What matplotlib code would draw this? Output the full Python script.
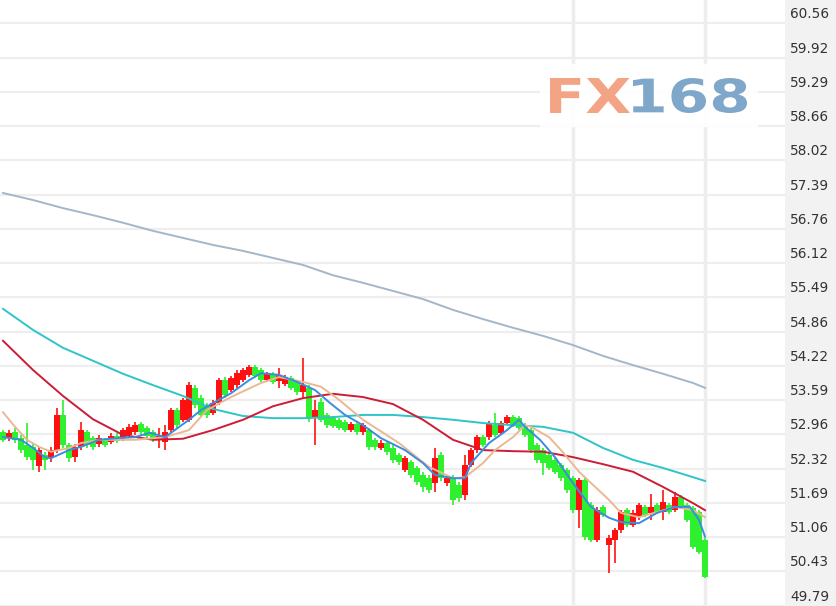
import matplotlib.pyplot as plt
from matplotlib.patches import Rectangle, PathPatch
from matplotlib.textpath import TextPath
from matplotlib.font_manager import FontProperties
from matplotlib.transforms import Affine2D

# price scale labels on the right
tick_vals = [60.56, 59.92, 59.29, 58.66, 58.02, 57.39, 56.76, 56.12, 55.49,
             54.86, 54.22, 53.59, 52.96, 52.32, 51.69, 51.06, 50.43, 49.79]

# candles (oldest first)
opens = [53.00, 52.89, 53.00, 52.89, 52.76, 52.73, 52.38, 52.58, 52.52, 52.67,
         53.32, 52.76, 52.54, 52.73, 53.00, 52.89, 52.78, 52.86, 52.82, 52.93,
         52.89, 52.95, 53.00, 53.15, 53.08, 53.00, 52.86, 52.82, 53.04, 53.41,
         53.23, 53.23, 53.82, 53.63, 53.50, 53.36, 53.54, 53.96, 53.78, 53.87,
         53.96, 54.06, 54.21, 54.15, 53.96, 54.08, 53.95, 53.89, 54.00, 53.93,
         53.74, 53.82, 53.26, 53.56, 53.32, 53.26, 53.23, 53.19, 53.04, 53.15,
         53.00, 53.04, 52.86, 52.71, 52.80, 52.71, 52.58, 52.30, 52.45, 52.34,
         52.21, 52.15, 52.06, 52.58, 52.06, 52.15, 52.03, 51.84, 52.40, 52.67,
         52.91, 52.91, 53.13, 52.99, 53.17, 53.28, 53.26, 53.13, 53.04, 52.76,
         52.67, 52.58, 52.49, 52.40, 52.30, 52.15, 51.56, 52.12, 51.66, 51.01,
         51.62, 50.92, 51.01, 51.19, 51.56, 51.29, 51.43, 51.62, 51.51, 51.66,
         51.53, 51.66, 51.56, 51.80, 51.66, 51.60, 51.53, 51.01]
highs = [53.04, 53.04, 53.08, 52.95, 53.17, 52.78, 52.73, 52.64, 52.73, 53.45,
         53.60, 52.80, 52.78, 53.19, 53.04, 52.93, 52.95, 52.89, 52.99, 52.99,
         53.08, 53.15, 53.19, 53.19, 53.12, 53.04, 53.08, 53.13, 53.45, 53.45,
         53.63, 53.93, 53.87, 53.69, 53.54, 53.60, 54.00, 54.02, 54.04, 54.15,
         54.19, 54.24, 54.24, 54.19, 54.12, 54.12, 54.19, 54.06, 54.04, 53.96,
         54.37, 53.87, 53.60, 53.63, 53.36, 53.30, 53.26, 53.23, 53.19, 53.19,
         53.17, 53.08, 52.89, 52.86, 52.84, 52.76, 52.62, 52.56, 52.49, 52.38,
         52.27, 52.21, 52.71, 52.64, 52.21, 52.21, 52.08, 52.58, 52.71, 52.95,
         52.95, 53.21, 53.36, 53.21, 53.32, 53.32, 53.30, 53.17, 53.08, 52.80,
         52.71, 52.62, 52.52, 52.43, 52.34, 52.19, 52.15, 52.15, 51.71, 51.62,
         51.66, 51.10, 51.23, 51.56, 51.60, 51.56, 51.69, 51.66, 51.86, 51.69,
         51.93, 51.69, 51.90, 51.84, 51.69, 51.64, 51.56, 51.05]
lows = [52.82, 52.84, 52.80, 52.62, 52.49, 52.30, 52.27, 52.30, 52.45, 52.62,
        52.71, 52.45, 52.45, 52.67, 52.71, 52.67, 52.73, 52.73, 52.78, 52.80,
        52.84, 52.91, 52.95, 52.95, 52.89, 52.82, 52.71, 52.67, 53.00, 53.08,
        53.19, 53.19, 53.45, 53.28, 53.26, 53.32, 53.50, 53.63, 53.74, 53.82,
        53.93, 54.02, 54.00, 53.93, 53.93, 53.89, 53.82, 53.85, 53.78, 53.69,
        53.63, 53.19, 52.76, 53.19, 53.08, 53.08, 53.04, 53.00, 53.00, 52.95,
        52.95, 52.67, 52.67, 52.67, 52.58, 52.43, 52.40, 52.27, 52.15, 52.03,
        51.90, 51.88, 51.90, 52.10, 52.01, 51.66, 51.71, 51.75, 52.36, 52.62,
        52.73, 52.86, 52.91, 52.95, 53.13, 53.10, 53.04, 52.91, 52.62, 52.43,
        52.21, 52.30, 52.23, 52.10, 51.88, 51.51, 51.23, 51.01, 50.97, 50.97,
        51.43, 50.40, 50.58, 51.14, 51.25, 51.25, 51.38, 51.43, 51.38, 51.49,
        51.38, 51.49, 51.53, 51.58, 51.34, 50.84, 50.75, 50.30]
closes = [52.86, 52.99, 52.86, 52.67, 52.54, 52.49, 52.67, 52.49, 52.67, 53.32,
          52.76, 52.52, 52.73, 53.04, 52.76, 52.73, 52.89, 52.76, 52.93, 52.84,
          53.04, 53.10, 53.13, 53.00, 52.93, 52.86, 52.93, 53.00, 53.41, 53.13,
          53.60, 53.87, 53.50, 53.32, 53.32, 53.54, 53.96, 53.69, 54.00, 54.09,
          54.15, 54.21, 54.04, 53.96, 54.08, 53.93, 54.06, 54.02, 53.82, 53.74,
          53.87, 53.26, 53.41, 53.23, 53.13, 53.12, 53.08, 53.04, 53.15, 53.00,
          53.13, 52.73, 52.73, 52.80, 52.64, 52.49, 52.45, 52.52, 52.21, 52.08,
          51.99, 51.93, 52.52, 52.15, 52.15, 51.75, 51.79, 52.40, 52.67, 52.91,
          52.76, 53.17, 52.95, 53.17, 53.28, 53.13, 53.08, 52.95, 52.67, 52.49,
          52.43, 52.34, 52.27, 52.15, 51.93, 51.56, 52.12, 51.07, 51.01, 51.56,
          51.47, 51.05, 51.19, 51.53, 51.29, 51.51, 51.66, 51.47, 51.62, 51.53,
          51.71, 51.53, 51.80, 51.62, 51.38, 50.88, 50.79, 50.33]

# moving average lines, sampled at candle positions
ma_x = [0, 5, 10, 15, 20, 25, 30, 35, 40, 45, 50, 55, 60, 65, 70, 75, 80,
        85, 90, 95, 100, 105, 110, 115, 117]
ma_slow = [57.42, 57.29, 57.14, 57.01, 56.87, 56.72, 56.59, 56.46, 56.35, 56.22,
           56.09, 55.90, 55.76, 55.61, 55.46, 55.26, 55.09, 54.93, 54.78, 54.61,
           54.41, 54.24, 54.08, 53.91, 53.82]
ma_cyan = [55.28, 54.89, 54.56, 54.32, 54.08, 53.87, 53.67, 53.43, 53.30, 53.26,
           53.26, 53.28, 53.32, 53.32, 53.28, 53.23, 53.17, 53.13, 53.10, 52.99,
           52.71, 52.49, 52.34, 52.17, 52.10]
ma_red = [54.69, 54.15, 53.67, 53.24, 52.95, 52.86, 52.88, 53.04, 53.23, 53.48,
          53.63, 53.71, 53.65, 53.52, 53.23, 52.86, 52.67, 52.65, 52.64, 52.54,
          52.41, 52.27, 51.99, 51.69, 51.56]

tan_x = [0, 2, 4, 6, 8, 11, 13, 16, 22, 27, 31, 34, 38, 43, 46, 50, 53, 56, 60,
         66, 71, 75, 77, 80, 82, 85, 87, 88, 91, 93, 96, 101, 103, 106, 112, 115, 117]
ma_tan = [53.37, 53.10, 52.86, 52.73, 52.64, 52.71, 52.80, 52.86, 52.86, 52.91,
          53.04, 53.41, 53.65, 53.91, 54.02, 53.93, 53.84, 53.60, 53.23, 52.80,
          52.36, 52.15, 52.17, 52.43, 52.67, 52.91, 53.13, 53.10, 52.91, 52.67,
          52.27, 51.75, 51.51, 51.43, 51.62, 51.56, 51.43]

blue_x = [0, 3, 5, 7, 8, 11, 13, 16, 19, 22, 24.5, 27, 31, 33, 35, 38, 41, 43, 46,
          49, 52, 54.5, 57, 60, 63, 67, 70, 72, 75, 77, 78, 81, 84, 86, 87, 89.5,
          92, 95, 98, 101, 103, 106, 109, 112, 114.5, 116, 117]
ma_blue = [52.91, 52.86, 52.71, 52.54, 52.52, 52.67, 52.73, 52.86, 52.89, 52.91,
           52.99, 52.91, 53.23, 53.41, 53.54, 53.72, 53.96, 54.09, 54.06, 53.93,
           53.78, 53.54, 53.32, 53.13, 52.89, 52.67, 52.43, 52.21, 52.15, 52.15,
           52.43, 52.80, 53.04, 53.23, 53.10, 52.86, 52.54, 52.06, 51.62, 51.42,
           51.34, 51.32, 51.51, 51.62, 51.62, 51.38, 51.07]

# day separators (candle index)
separators = [95, 117]

W, H = 837, 606
fig = plt.figure(figsize=(W / 100, H / 100), dpi=100, facecolor='#f2f2f2')
ax = fig.add_axes([0, 0, 785 / W, 1])
ax.set_facecolor('white')

n = len(closes)
x = list(range(n))
up_col, down_col = '#ff1010', '#2ef02e'
cols = [up_col if c >= o else down_col for o, c in zip(opens, closes)]
bottoms = [min(o, c) for o, c in zip(opens, closes)]
heights = [max(abs(c - o), 0.02) for o, c in zip(opens, closes)]

ax.vlines(x, lows, highs, colors=cols, lw=1.2, zorder=3)
ax.bar(x, heights, bottom=bottoms, width=0.85, color=cols, lw=0, zorder=3)

ax.plot(ma_x, ma_slow, color='#a3b7c8', lw=1.4, zorder=4)
ax.plot(ma_x, ma_cyan, color='#2ec4c8', lw=1.4, zorder=4)
ax.plot(ma_x, ma_red, color='#cc1c36', lw=1.4, zorder=4)
ax.plot(tan_x, ma_tan, color='#eab892', lw=1.4, zorder=4)
ax.plot(blue_x, ma_blue, color='#3a8de0', lw=1.4, zorder=5)

for s in separators:
    ax.axvline(s, color='#ededed', lw=2.5, zorder=0.5)

ax.set_xlim(-0.5, 130.33)
ax.set_ylim(49.79, 60.985)
ax.set_yticks(tick_vals)
ax.set_xticks([])
ax.grid(axis='y', color='#eeeeee', lw=1.6, zorder=0)
ax.tick_params(length=0, labelleft=False, labelright=False)
for sp in ax.spines.values():
    sp.set_visible(False)

for v in tick_vals:
    ax.annotate(f'{v:.2f}', xy=(1, v), xycoords=('axes fraction', 'data'),
                xytext=(3.8, 6.5), textcoords='offset points',
                ha='left', va='center', fontsize=9.8, color='#333333',
                annotation_clip=False)

# FX168 watermark
to_fig = Affine2D().scale(1 / W, 1 / H) + fig.transFigure
fig.add_artist(Rectangle((540, H - 126), 217, 62, transform=to_fig,
                         color='white', alpha=0.9, zorder=5))
fp = FontProperties(family='DejaVu Sans', weight='bold')
for txt, x0, x1, c in [('FX', 550, 630, '#f2a485'), ('168', 633, 747, '#7fa7c9')]:
    tp = TextPath((0, 0), txt, size=1, prop=fp)
    e = tp.get_extents()
    tr = Affine2D().translate(-e.x0, -e.y0).scale((x1 - x0) / e.width, 35 / e.height)
    tr = tr.translate(x0, H - 113)
    fig.add_artist(PathPatch(tr.transform_path(tp), transform=to_fig,
                             color=c, lw=0, zorder=6))

fig.savefig('out.png', dpi=100, facecolor=fig.get_facecolor())
